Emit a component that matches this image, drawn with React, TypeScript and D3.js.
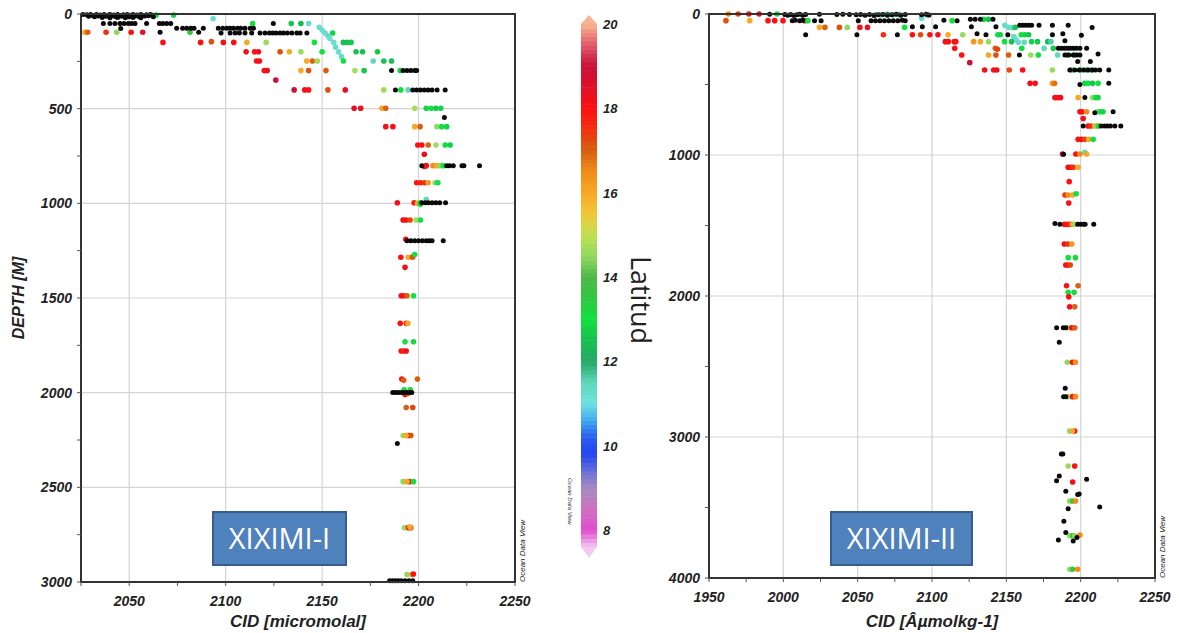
import React from "react";
import * as d3 from "d3";

// ---------- DATA ----------
// XIXIMI-I : colored samples [CID, depth, latitude]
const leftSurface: [number, number, number][] = [
  [2064, 5, 13], [2073, 5, 12.8], [2093.5, 25, 11.2],
  [2027, 96, 16], [2028.5, 96, 17], [2038, 96, 17.5], [2043.5, 96, 14.5], [2051, 96, 18], [2057, 96, 18.5], [2081.5, 96, 13.5],
  [2067.5, 150, 18], [2087, 150, 18], [2092.6, 146, 17.2], [2098.8, 150, 18.2], [2104.2, 150, 18], [2111, 150, 16], [2121, 150, 14.6],
  [2114, 50, 13], [2134, 50, 12.6], [2139, 50, 12.3], [2143, 50, 11.3],
  [2148.5, 70, 11.2], [2150, 85, 11.2], [2151.5, 100, 11.2], [2153, 115, 11.3], [2154, 130, 11.2], [2156, 150, 11.2],
  [2157, 175, 11.3], [2158.5, 200, 11.2], [2160, 225, 11.3],
  [2155.5, 100, 12.8], [2146, 150, 13], [2161, 150, 12.5], [2163, 150, 12.4], [2165, 150, 12.6],
];
const leftThermocline: [number, number, number][] = [
  [2110.6, 199, 18.2], [2115, 199, 18], [2117, 199, 18.3], [2128.2, 199, 17.2], [2133, 199, 16], [2139, 199, 14.6], [2150, 199, 13],
  [2167.6, 199, 12.5], [2171, 199, 12.4], [2178.7, 199, 12.6],
  [2116, 248, 18], [2117.5, 248, 18.2], [2142, 248, 16], [2145, 248, 17], [2147.5, 248, 14.7], [2161, 248, 13], [2176.5, 248, 11.5],
  [2182, 248, 12.5], [2186, 248, 12.4],
  [2120, 299, 18], [2121.5, 299, 18.3], [2139, 299, 16], [2143, 299, 17.2], [2152, 299, 17], [2167, 299, 14.7], [2171.8, 299, 12.6], [2190.5, 299, 12.8],
  [2126, 349, 19],
  [2135.5, 401, 18.8], [2141, 401, 18.2], [2143, 401, 18], [2153, 401, 17.2], [2162, 401, 18.3], [2182, 401, 14.7], [2190.8, 401, 13], [2194.6, 401, 11.5],
  [2166.6, 498, 18.5], [2170, 498, 18.3], [2181, 498, 16], [2183, 498, 17], [2198, 498, 14.7], [2204, 498, 12.8], [2206.5, 498, 13], [2209, 498, 12.6], [2211.5, 498, 12.8],
  [2183, 595, 18.2], [2186.7, 595, 18], [2198, 595, 16], [2200.8, 595, 17], [2209.5, 595, 14.5], [2212, 595, 13], [2214.6, 595, 12.8],
  [2199.6, 692, 18.1], [2201.7, 692, 18], [2205, 692, 17], [2209, 692, 14.7], [2213.8, 692, 13], [2216.4, 692, 12.8],
  [2203, 741, 18.3],
  [2204, 801, 18.2], [2203, 805, 18], [2207.5, 801, 16.5], [2209.5, 801, 16], [2211, 801, 14.5], [2212.8, 801, 13],
  [2199, 891, 18], [2201, 891, 17.8], [2203, 891, 17.5], [2205, 891, 16.3], [2208.6, 891, 14.5], [2210, 891, 13],
];
const leftDeep: [number, number, number][] = [
  [2189, 997, 18.2], [2197.7, 997, 18], [2199.5, 1000, 16], [2200.8, 997, 13], [2204, 980, 11.5], [2201, 1005, 13],
  [2192, 1088, 18.3], [2193.5, 1088, 18], [2195.6, 1088, 17.3], [2198.7, 1088, 14.7], [2201, 1088, 13],
  [2193.4, 1190, 18],
  [2190.8, 1285, 18], [2194.6, 1285, 16], [2196.5, 1285, 16.4], [2197, 1283, 17.2], [2198, 1270, 13],
  [2193, 1338, 18.2],
  [2191, 1488, 18.2], [2192.5, 1488, 18], [2194, 1488, 17], [2197.4, 1488, 13],
  [2190.5, 1634, 18], [2193.6, 1634, 17.5], [2194.5, 1634, 16],
  [2193, 1731, 13], [2197.4, 1731, 13.2],
  [2191, 1780, 18], [2192.3, 1780, 17.6], [2193.6, 1780, 18.2],
  [2191.3, 1928, 18], [2192.3, 1935, 17], [2199.4, 1928, 17],
  [2193, 2010, 18.2], [2192.5, 1985, 13], [2195.7, 1985, 13.2], [2194.5, 2005, 17],
  [2193.6, 2078, 17], [2197, 2078, 17.3],
  [2192, 2226, 14.6], [2194.8, 2226, 18], [2196, 2226, 17.2], [2193.5, 2226, 16],
  [2192, 2470, 14.5], [2195.3, 2470, 18], [2197.4, 2470, 13], [2194, 2470, 16],
  [2192.7, 2713, 14.6], [2194.8, 2713, 18], [2196, 2713, 17], [2195.5, 2710, 16],
  [2194, 2960, 14.5], [2196.5, 2960, 16], [2197.3, 2958, 18],
];
// XIXIMI-I : samples without latitude (black) [CID, depth]
const leftBlack: [number, number][] = [
  [2026, 2], [2028, 4], [2030, 2], [2031, 8], [2033, 3], [2034, 10], [2035, 5], [2037, 2], [2038, 12], [2039, 6], [2040, 3], [2041, 10],
  [2042, 5], [2043, 14], [2044, 2], [2045, 8], [2046, 12], [2047, 4], [2048, 9], [2049, 2], [2050, 14], [2051, 6], [2052, 3], [2053, 10],
  [2054, 5], [2055, 13], [2056, 2], [2057, 7], [2058, 11], [2059, 4], [2060, 9], [2061, 2], [2062, 6], [2062.5, 15], [2029, 12], [2032, 15],
  [2036, 18], [2040, 20], [2044, 18], [2048, 20], [2052, 18], [2056, 20],
  [2036.6, 50], [2040, 50], [2042.6, 50], [2045.2, 50], [2047.3, 50], [2049.5, 50], [2051.3, 50], [2053, 50], [2059, 50], [2045.6, 76],
  [2065.6, 50], [2067.4, 50], [2069.4, 50], [2071.5, 50], [2066, 96], [2124.7, 50],
  [2074.6, 75], [2077.7, 75], [2079.8, 75], [2081.9, 75], [2083.6, 75], [2088.4, 75], [2086, 96],
  [2096.2, 75], [2098.5, 75], [2100.6, 75], [2102.3, 75], [2104, 75], [2106.1, 75], [2107.8, 75], [2110, 75], [2112.7, 75], [2114.4, 75],
  [2097.6, 100], [2102.3, 100], [2104.9, 100], [2107.1, 100], [2110, 100], [2113.5, 100],
  [2117.8, 100], [2120.4, 100], [2122.7, 100], [2124.4, 100], [2126.1, 100], [2128.2, 100], [2130, 100], [2132, 100], [2134.3, 100],
  [2136.9, 100], [2138.6, 100], [2142.1, 100],
  [2186, 299], [2192, 299], [2194, 299], [2196, 299], [2198, 299], [2199, 299],
  [2188, 401], [2197, 401], [2199, 401], [2201, 401], [2203, 401], [2205, 401], [2207, 401], [2209.6, 401], [2213.8, 401],
  [2213.4, 546],
  [2201.7, 801], [2214.6, 801], [2216, 801], [2218, 801], [2222.5, 801], [2223.5, 801], [2231.6, 801],
  [2201.7, 997], [2203.5, 997], [2205, 997], [2207, 997], [2209, 997], [2211, 997], [2214, 997],
  [2194, 1197], [2196, 1197], [2198, 1197], [2200, 1197], [2202, 1197], [2204, 1197], [2205.5, 1197], [2207, 1197], [2212.8, 1197],
  [2186.6, 1999], [2188, 1999], [2189.5, 1999], [2191, 1999], [2192.5, 1999], [2194, 1999], [2195.5, 1999], [2196.5, 1999],
  [2189, 2268],
  [2185, 2994], [2186.5, 2994], [2188, 2994], [2189.5, 2994], [2191, 2994], [2193, 2994], [2195, 2994], [2197, 2994],
];

// XIXIMI-II : colored samples [CID, depth, latitude]
const rightSurface: [number, number, number][] = [
  [1963, 0, 16.5], [1969.6, 0, 17.3], [1976.8, 0, 18], [1983.7, 0, 18.2], [1995.7, 0, 13], [2062, 5, 11.8], [2066, 5, 11.5],
  [2070, 3, 12.3], [2074, 5, 11.5], [2078, 4, 11.7], [2097, 8, 11.4],
  [1961.4, 47, 17.2], [1977.4, 47, 16], [1989.7, 47, 18], [1994.2, 47, 18.2], [1999.8, 47, 18], [2014.3, 47, 18.3], [2016.5, 47, 13],
  [2113.5, 47, 13], [2093, 30, 11.2], [2134.7, 38, 12.8], [2138, 38, 12.5],
  [2024.3, 95, 16], [2028, 95, 17], [2037.7, 95, 17.2], [2043, 95, 14.5], [2051.5, 95, 18.2], [2056.6, 95, 18.4], [2081.6, 95, 13],
  [2149, 80, 11.3], [2151.5, 95, 11.2], [2154, 97, 11.4], [2156, 95, 12.5],
  [2067.3, 147, 17.5], [2086.8, 147, 18], [2092.3, 147, 17.2], [2098.6, 147, 18], [2104, 147, 18.2], [2110.8, 147, 16], [2120.7, 147, 14.6],
  [2144.3, 147, 13], [2146, 147, 12.8], [2160, 147, 13], [2162.5, 147, 12.8], [2165, 147, 12.6],
  [2155, 160, 11.3], [2156.5, 180, 11.2], [2158, 200, 11.3],
];
const rightThermocline: [number, number, number][] = [
  [2109, 196, 18.2], [2111, 196, 18], [2115, 196, 18.3], [2116, 196, 18], [2128, 196, 16.3], [2132.5, 196, 16], [2138, 196, 14.6],
  [2148.8, 196, 13], [2153.5, 196, 12.5], [2162, 200, 11.4], [2167, 196, 12.8], [2171, 196, 12.6], [2177.8, 196, 12.4], [2180, 196, 11.6],
  [2115.3, 243, 18], [2142.6, 243, 17], [2144, 250, 17.3], [2160.4, 243, 13], [2175.4, 243, 11.5], [2181.6, 243, 12.7],
  [2120, 291, 18], [2138, 291, 16], [2143, 291, 17.2], [2151.5, 291, 17], [2166.4, 291, 14.6], [2171.5, 291, 13], [2184.5, 291, 11.5],
  [2191, 291, 12.6], [2196, 291, 12.8],
  [2125.4, 345, 19],
  [2135.4, 397, 18.2], [2141.5, 397, 18], [2143.6, 397, 18.3], [2152, 397, 17.2], [2161, 397, 18], [2181, 397, 14.6], [2194, 397, 12.6],
  [2200, 397, 12.8], [2204, 397, 13], [2207, 397, 12.7],
  [2166, 492, 18.3], [2169.4, 492, 18], [2181, 492, 16.2], [2182.5, 492, 16.8], [2202.8, 492, 12.8], [2205, 492, 13], [2208, 492, 12.6], [2211.7, 492, 13],
  [2182.7, 593, 18.2], [2184.5, 593, 18], [2186.5, 593, 18.3], [2198.3, 593, 16], [2208, 593, 14.6], [2210, 593, 13], [2211.7, 593, 12.8],
  [2199.5, 693, 18.2], [2201, 693, 18], [2204, 693, 16.5], [2211, 693, 14.7], [2213, 693, 13], [2215, 693, 12.8],
  [2201.7, 742, 18.2],
  [2205, 794, 18.2], [2207, 794, 17.5], [2209.5, 794, 16], [2211, 794, 14.5], [2212, 794, 13],
  [2198.3, 889, 18], [2200.5, 889, 18.2], [2202.8, 889, 17.3], [2205.5, 889, 16], [2208.4, 889, 13],
];
const rightDeep: [number, number, number][] = [
  [2187.8, 993, 19], [2196.8, 993, 18], [2199.5, 993, 16.5], [2202.8, 980, 11.5], [2204, 993, 16],
  [2191.6, 1087, 18.2], [2193.3, 1087, 18], [2195, 1087, 17.5], [2198.3, 1087, 16],
  [2192.3, 1189, 18],
  [2189.5, 1284, 17.5], [2191.5, 1284, 16.5], [2194.5, 1284, 16], [2197, 1275, 13],
  [2192, 1340, 18.2],
  [2189, 1492, 18.2], [2191, 1492, 18], [2193, 1492, 17.5], [2194.5, 1492, 16], [2196, 1492, 14.6],
  [2189, 1631, 18.2], [2191.5, 1631, 17.5], [2194, 1631, 16.3],
  [2191.6, 1728, 13], [2196.5, 1728, 13.2],
  [2190, 1780, 18.2], [2191.5, 1780, 18], [2193, 1780, 17.3],
  [2190.5, 1927, 18], [2198.3, 1927, 17],
  [2191.6, 1974, 13], [2195.6, 1974, 13.2],
  [2192, 2006, 18],
  [2192.6, 2076, 18.2], [2196, 2076, 17],
  [2191.5, 2225, 14.6], [2194, 2225, 18], [2196, 2225, 17],
  [2191, 2470, 14.5], [2194.5, 2470, 18], [2196.5, 2470, 16.5],
  [2191.5, 2714, 14.6], [2194.6, 2714, 18], [2196.5, 2714, 16.5],
  [2192.6, 2957, 14.5], [2196, 2957, 18], [2194.5, 2957, 16],
  [2191.6, 3206, 14.6], [2196, 3206, 18],
  [2194.6, 3319, 18.2],
  [2192.5, 3454, 14.6], [2194.5, 3454, 13.5], [2196.5, 3454, 16.5],
  [2192.6, 3700, 14.6], [2194.5, 3700, 13.5], [2196, 3700, 14.5], [2199.5, 3695, 16.5],
  [2192.6, 3938, 14.6], [2194.5, 3938, 13.5], [2198, 3938, 16.5],
];
// XIXIMI-II : samples without latitude (black) [CID, depth]
const rightBlack: [number, number][] = [
  [1990.8, 2], [2001, 4], [2003, 8], [2005, 3], [2007, 10], [2009, 5], [2011, 2], [2013, 9], [2015, 4], [2024.3, 2], [2036, 3], [2040, 2],
  [2044.5, 4], [2049, 6], [2052, 3], [2055, 8], [2058, 4], [2061, 10], [2064, 6], [2067, 3], [2070, 9], [2073, 5], [2076, 2], [2079, 8],
  [2082, 4], [2093, 5], [2096, 2], [2098, 7],
  [2006, 47], [2008, 45], [2011, 47], [2013, 45], [2021, 47], [2025.4, 47], [2050.4, 47], [2059, 47], [2062, 47], [2065, 47], [2068, 47],
  [2071, 47], [2074, 47], [2077, 47], [2080, 45], [2082, 47], [2108, 45], [2116.9, 47], [2125.8, 38], [2129, 38], [2132.5, 38], [2141, 38],
  [2086.8, 90], [2093.5, 90], [2102.4, 90], [2126.5, 90], [2143, 90], [2159, 80], [2161, 80], [2163, 80], [2165, 80], [2167, 80],
  [2172, 80], [2181, 80], [2191.6, 80], [2207.7, 95],
  [2015, 147], [2049.5, 147], [2076.7, 147], [2130.3, 140], [2136.3, 147], [2151, 147], [2181, 147], [2188, 140], [2200.5, 150],
  [2189.4, 190],
  [2185, 243], [2187, 243], [2189, 243], [2191, 243], [2193, 243], [2195, 243], [2197, 243], [2199.5, 243], [2204, 243],
  [2158.8, 291], [2189.4, 291], [2192, 291], [2195, 291], [2197.5, 291], [2199.5, 291], [2211.7, 283],
  [2198, 336], [2206.5, 336],
  [2192.7, 397], [2196, 397], [2199, 397], [2202, 397], [2205, 397], [2208, 397], [2210, 397], [2212.8, 397], [2218.9, 397],
  [2199.5, 500], [2218.9, 492],
  [2202.8, 593],
  [2209.5, 700], [2221.8, 693],
  [2201.7, 794], [2213.8, 794], [2216, 794], [2218, 794], [2220, 794], [2223, 794], [2227, 794],
  [2188.5, 995],
  [2182.7, 1485], [2186, 1492], [2198, 1492], [2200, 1492], [2202, 1492], [2203, 1492], [2208.8, 1492],
  [2183.8, 2225], [2188.3, 2225], [2190, 2225],
  [2185.6, 2328], [2189.6, 2655], [2188.5, 2714], [2190, 2714], [2187, 3121], [2188, 3121],
  [2185.6, 3277], [2183.8, 3311], [2204, 3300], [2190, 3385], [2198, 3408], [2199, 3405], [2191.6, 3508], [2212.8, 3496],
  [2188.7, 3598], [2190, 3678], [2197.5, 3712], [2185, 3730], [2195, 3738],
];

const leftXTicks = [2050, 2100, 2150, 2200, 2250];
const leftYTicks = [0, 500, 1000, 1500, 2000, 2500, 3000];
const rightXTicks = [1950, 2000, 2050, 2100, 2150, 2200, 2250];
const rightYTicks = [0, 1000, 2000, 3000, 4000];
const colorTicks = [20, 18, 16, 14, 12, 10, 8];

// ---------- STYLE ----------
const cmapStops: [number, string][] = [
  [7.6, "#f2c8ee"], [8, "#e04cd0"], [8.5, "#d070c0"], [9, "#a48cc0"], [9.4, "#6a70d8"], [9.8, "#2244f0"], [10.2, "#2a5cf0"],
  [10.6, "#40a8f0"], [11, "#70e0e0"], [11.5, "#60d8b8"], [12, "#26a868"], [12.5, "#18c050"], [13, "#10e040"], [13.5, "#30c840"],
  [14, "#4cb848"], [14.5, "#90d860"], [15, "#c0e050"], [15.5, "#f0c838"], [16, "#f8a824"], [16.5, "#f08c18"], [17, "#d86010"],
  [17.5, "#f03010"], [18, "#ff1010"], [18.5, "#e01028"], [19, "#c81038"], [19.5, "#e05868"], [20, "#f8b490"],
];
const colorOf = d3
  .scaleLinear<string>()
  .domain(cmapStops.map((s) => s[0]))
  .range(cmapStops.map((s) => s[1]))
  .clamp(true);

const tickFont = "'Liberation Sans', Arial, sans-serif";

type PanelProps = {
  x0: number; x1: number; y0: number; y1: number;
  xDomain: [number, number]; yDomain: [number, number];
  xTicks: number[]; yTicks: number[]; xMinorStep: number; yMinorStep: number;
  colored: [number, number, number][]; black: [number, number][];
  xTitle: string; yTitle?: string; box: { x: number; w: number; label: string };
};

function Panel(p: PanelProps) {
  const xs = d3.scaleLinear().domain(p.xDomain).range([p.x0, p.x1]);
  const ys = d3.scaleLinear().domain(p.yDomain).range([p.y0, p.y1]);
  const xMinor = d3.range(p.xDomain[0], p.xDomain[1] + 0.1, p.xMinorStep);
  const yMinor = d3.range(p.yDomain[0], p.yDomain[1] + 0.1, p.yMinorStep);
  const r = 2.8;
  return (
    <g>
      {p.xTicks.map((t) => (
        <line key={"gx" + t} x1={xs(t)} x2={xs(t)} y1={p.y0} y2={p.y1} stroke="#d4d4d4" strokeWidth={1.2} />
      ))}
      {p.yTicks.map((t) => (
        <line key={"gy" + t} x1={p.x0} x2={p.x1} y1={ys(t)} y2={ys(t)} stroke="#d4d4d4" strokeWidth={1.2} />
      ))}
      {p.colored.map((d, i) => (
        <circle key={"c" + i} cx={xs(d[0])} cy={ys(d[1])} r={r} fill={colorOf(d[2])} />
      ))}
      {p.black.map((d, i) => (
        <circle key={"b" + i} cx={xs(d[0])} cy={ys(d[1])} r={r - 0.3} fill="#0a0a0a" />
      ))}
      <rect x={p.x0} y={p.y0} width={p.x1 - p.x0} height={p.y1 - p.y0} fill="none" stroke="#333" strokeWidth={2} />
      {xMinor.map((t) => (
        <line key={"mx" + t} x1={xs(t)} x2={xs(t)} y1={p.y1} y2={p.y1 + 4} stroke="#555" strokeWidth={1} />
      ))}
      {yMinor.map((t) => (
        <line key={"my" + t} x1={p.x0 - 4} x2={p.x0} y1={ys(t)} y2={ys(t)} stroke="#555" strokeWidth={1} />
      ))}
      {p.xTicks.map((t) => (
        <text key={"tx" + t} x={xs(t)} y={p.y1 + 24} textAnchor="middle" fontFamily={tickFont} fontWeight="bold"
          fontStyle="italic" fontSize={14} fill="#222">{t}</text>
      ))}
      {p.yTicks.map((t) => (
        <text key={"ty" + t} x={p.x0 - 9} y={ys(t) + 5} textAnchor="end" fontFamily={tickFont} fontWeight="bold"
          fontStyle="italic" fontSize={14} fill="#222">{t}</text>
      ))}
      <text x={(p.x0 + p.x1) / 2} y={627} textAnchor="middle" fontFamily={tickFont} fontWeight="bold" fontStyle="italic"
        fontSize={17} fill="#222">{p.xTitle}</text>
      {p.yTitle && (
        <text transform={`translate(24,${(p.y0 + p.y1) / 2}) rotate(-90)`} textAnchor="middle" fontFamily={tickFont}
          fontWeight="bold" fontStyle="italic" fontSize={16} fill="#222">{p.yTitle}</text>
      )}
      <text transform={`translate(${p.x1 + 10},${p.y1}) rotate(-90)`} fontFamily={tickFont} fontStyle="italic"
        fontSize={8} fill="#222">Ocean Data View</text>
      <rect x={p.box.x} y={512} width={p.box.w} height={53} fill="#4f81bd" stroke="#385d8a" strokeWidth={2} />
      <text x={p.box.x + p.box.w / 2} y={549} textAnchor="middle" fontFamily="'Open Sans', sans-serif" fontSize={29}
        fill="#fff">{p.box.label}</text>
    </g>
  );
}

function ColorBar() {
  const cy = d3.scaleLinear().domain([20, 8]).range([24, 530]);
  const bx = 581;
  const bw = 16;
  const steps = d3.range(7.6, 20, 0.1);
  return (
    <g>
      {steps.map((v) => (
        <rect key={v.toFixed(1)} x={bx} y={cy(v + 0.1)} width={bw} height={cy(v) - cy(v + 0.1) + 0.5} fill={colorOf(v + 0.05)} />
      ))}
      <path d={`M${bx},${cy(20)} L${bx + bw / 2},${cy(20) - 9} L${bx + bw},${cy(20)} Z`} fill={colorOf(20)} />
      <path d={`M${bx},${cy(7.6)} L${bx + bw / 2},${cy(7.6) + 11} L${bx + bw},${cy(7.6)} Z`} fill={colorOf(7.6)} />
      {colorTicks.map((t) => (
        <text key={t} x={bx + bw + 6} y={cy(t) + 5} fontFamily={tickFont} fontWeight="bold" fontStyle="italic" fontSize={13}
          fill="#222">{t}</text>
      ))}
      <text transform={`translate(631,${300}) rotate(90)`} textAnchor="middle" fontFamily="'Open Sans', sans-serif" fontSize={27}
        fill="#222">Latitud</text>
      <text transform={`translate(568,478) rotate(90)`} fontFamily={tickFont} fontStyle="italic" fontSize={6} fill="#333">Ocean Data View</text>
    </g>
  );
}

export default function App() {
  return (
    <svg width={1179} height={633} style={{ position: "absolute", left: 0, top: 0, background: "#fff" }}>
      <Panel x0={81} x1={515} y0={14} y1={582} xDomain={[2025, 2250]} yDomain={[0, 3000]} xTicks={leftXTicks} yTicks={leftYTicks}
        xMinorStep={25} yMinorStep={250} colored={[...leftSurface, ...leftThermocline, ...leftDeep]} black={leftBlack}
        xTitle="CID [micromolal]" yTitle="DEPTH [M]" box={{ x: 213, w: 133, label: "XIXIMI-I" }} />
      <Panel x0={709} x1={1155} y0={14} y1={578} xDomain={[1950, 2250]} yDomain={[0, 4000]} xTicks={rightXTicks} yTicks={rightYTicks}
        xMinorStep={25} yMinorStep={500} colored={[...rightSurface, ...rightThermocline, ...rightDeep]} black={rightBlack}
        xTitle="CID [Âµmolkg-1]" box={{ x: 831, w: 141, label: "XIXIMI-II" }} />
      <ColorBar />
    </svg>
  );
}
